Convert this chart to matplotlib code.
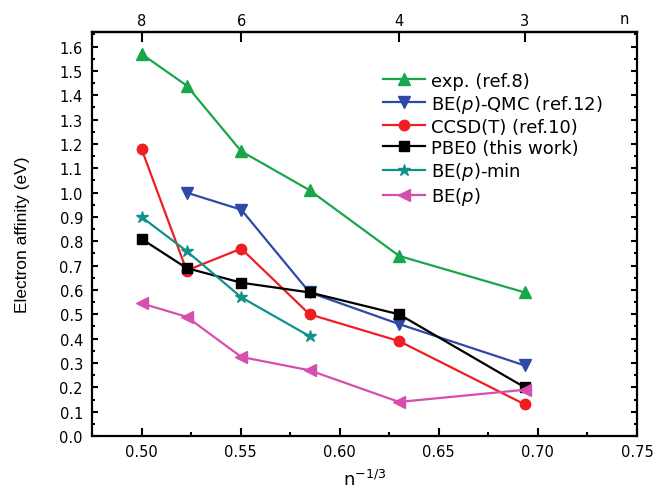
import numpy as np
import matplotlib
matplotlib.use("Agg")
import matplotlib.pyplot as plt
from matplotlib.ticker import MultipleLocator

plt.rcParams['font.family'] = ['DejaVu Sans']

# cluster sizes n and abscissa n^(-1/3)
n_all = [8, 7, 6, 5, 4, 3]
x_all = [n ** (-1.0 / 3.0) for n in n_all]

exp_ea = [1.57, 1.44, 1.17, 1.01, 0.74, 0.59]
qmc_n = [7, 6, 5, 4, 3]
qmc_ea = [1.00, 0.93, 0.59, 0.46, 0.29]
ccsdt_ea = [1.18, 0.68, 0.77, 0.50, 0.39, 0.13]
pbe0_ea = [0.81, 0.69, 0.63, 0.59, 0.50, 0.20]
bemin_n = [8, 7, 6, 5]
bemin_ea = [0.90, 0.76, 0.57, 0.41]
bep_ea = [0.545, 0.49, 0.325, 0.27, 0.14, 0.19]

top_n = [8, 6, 4, 3]


def xs(ns):
    return [n ** (-1.0 / 3.0) for n in ns]


fig = plt.figure(figsize=(6.56, 4.89), dpi=100)
ax = fig.add_axes([0.1402, 0.1063, 0.971 - 0.1402, 0.9325 - 0.1063])

lw = 1.6
ax.plot(x_all, exp_ea, color='#1aa64a', marker='^', lw=lw, ms=8.5, label='exp. (ref.8)')
ax.plot(xs(qmc_n), qmc_ea, color='#2e4aa6', marker='v', lw=lw, ms=8.5, label=r'BE($\it{p}$)-QMC (ref.12)')
ax.plot(x_all, ccsdt_ea, color='#f01e23', marker='o', lw=lw, ms=7.5, label='CCSD(T) (ref.10)')
ax.plot(x_all, pbe0_ea, color='#000000', marker='s', lw=lw, ms=6.5, label='PBE0 (this work)')
ax.plot(xs(bemin_n), bemin_ea, color='#10918a', marker='*', lw=lw, ms=9, label=r'BE($\it{p}$)-min')
ax.plot(x_all, bep_ea, color='#d64fae', marker='<', lw=lw, ms=8.5, label=r'BE($\it{p}$)')

ax.set_xlim(0.475, 0.75)
ax.set_ylim(0.0, 1.66)
ax.xaxis.set_major_locator(MultipleLocator(0.05))
ax.xaxis.set_minor_locator(MultipleLocator(0.025))
ax.yaxis.set_major_locator(MultipleLocator(0.1))
ax.yaxis.set_minor_locator(MultipleLocator(0.05))
ax.xaxis.set_major_formatter(plt.FuncFormatter(lambda v, p: f"{v:.2f}"))
ax.yaxis.set_major_formatter(plt.FuncFormatter(lambda v, p: f"{v:.1f}"))

ax.tick_params(which='both', direction='in', width=1.5, labelsize=10.5)
ax.tick_params(axis='y', which='both', right=True, pad=6.5)
ax.tick_params(axis='y', which='major', length=4.5)
ax.tick_params(axis='y', which='minor', length=2.5)
ax.tick_params(axis='x', which='major', length=5.5, pad=5.8)
ax.tick_params(axis='x', which='minor', length=3)
for s in ax.spines.values():
    s.set_linewidth(1.6)

ax.set_ylabel('Electron affinity (eV)', fontsize=12.5, family=['Liberation Sans', 'DejaVu Sans'])
ax.yaxis.set_label_coords(-0.114, 0.5)
ax.set_xlabel(r'n$^{\mathregular{-1/3}}$', fontsize=13, labelpad=7)

top = ax.secondary_xaxis('top')
top.set_xticks(xs(top_n))
top.set_xticklabels([str(n) for n in top_n])
top.tick_params(direction='in', length=7, width=1.5, labelsize=10.5, pad=2.6)
top.xaxis.set_minor_locator(plt.NullLocator())
top.spines['top'].set_linewidth(1.6)
ax.text(0.7435, 1.0 + 0.015, 'n', transform=ax.get_xaxis_transform(),
        ha='center', va='bottom', fontsize=10.5)

ax.legend(loc='upper left', bbox_to_anchor=(0.534, 0.902), frameon=False, fontsize=13,
          handlelength=2.3, handletextpad=0.35, labelspacing=0.17,
          borderaxespad=0, borderpad=0)

fig.savefig('out.png', dpi=100)
